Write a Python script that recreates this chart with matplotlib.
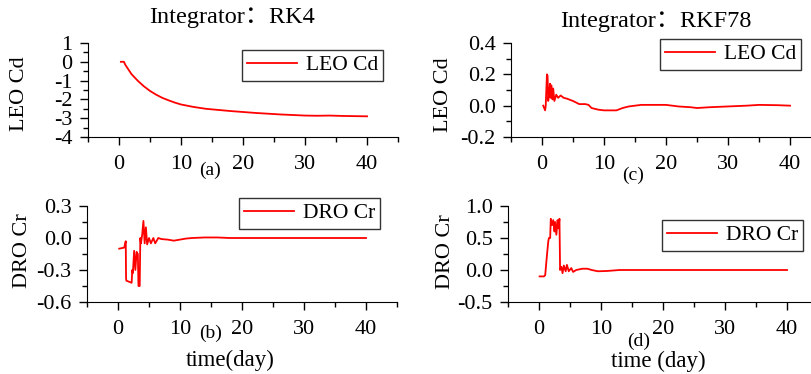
import matplotlib
matplotlib.use("Agg")
import matplotlib.pyplot as plt
from matplotlib.ticker import MultipleLocator

plt.rcParams["font.family"] = ["Liberation Serif", "Noto Sans CJK SC"]
plt.rcParams["axes.unicode_minus"] = False

# (a) RK4, LEO Cd
t_a = [0.3, 0.8, 1.0, 1.5, 2, 3, 4, 5, 6, 7, 8, 9, 10, 12, 14, 16, 18, 20,
       22, 24, 26, 28, 30, 32, 34, 36, 38, 40]
cd_a = [0.0, 0.0, -0.15, -0.4, -0.65, -1.0, -1.3, -1.55, -1.75, -1.92, -2.05,
        -2.17, -2.27, -2.4, -2.5, -2.56, -2.62, -2.67, -2.72, -2.76, -2.8,
        -2.83, -2.86, -2.87, -2.86, -2.88, -2.89, -2.9]

# (c) RKF78, LEO Cd
t_c = [0.2, 0.5, 0.6, 0.8, 0.9, 1.0, 1.1, 1.3, 1.4, 1.5, 1.7, 1.8, 2.0, 2.3,
       2.6, 3.0, 3.5, 4.0, 5.0, 6.0, 7.0, 7.5, 8.0, 9.0, 10, 12, 13, 14, 16,
       18, 20, 22, 24, 25, 27, 30, 33, 35, 38, 40]
cd_c = [0.0, -0.03, 0.0, 0.2, 0.19, 0.03, 0.06, 0.14, 0.05, 0.13, 0.04, 0.11,
        0.03, 0.07, 0.05, 0.065, 0.05, 0.045, 0.03, 0.01, 0.01, 0.005, -0.015,
        -0.025, -0.03, -0.03, -0.015, -0.005, 0.005, 0.005, 0.005, -0.005,
        -0.01, -0.015, -0.01, -0.005, 0.0, 0.005, 0.003, 0.0]

# (b) RK4, DRO Cr
t_b = [0.2, 1.0, 1.25, 1.3, 1.35, 2.2, 2.3, 2.4, 2.6, 2.8, 3.0, 3.2, 3.3,
       3.5, 3.6, 3.7, 3.9, 4.1, 4.3, 4.5, 4.7, 5.0, 5.3, 5.7, 6.0, 6.5, 7,
       8, 9, 10, 11, 12, 14, 16, 18, 20, 25, 30, 35, 40]
cr_b = [-0.1, -0.09, -0.03, -0.38, -0.4, -0.42, -0.3, -0.33, -0.12, -0.3,
        -0.13, -0.15, -0.45, -0.45, 0.0, -0.05, 0.03, 0.16, -0.05, 0.1, -0.06,
        0.0, -0.05, 0.0, -0.05, 0.0, -0.01, -0.015, -0.025, -0.015, -0.005,
        0.0, 0.005, 0.005, 0.0, 0.0, 0.0, 0.0, 0.0, 0.0]

# (d) RKF78, DRO Cr
t_d = [0.1, 0.8, 1.0, 1.3, 1.5, 1.6, 1.8, 1.9, 2.1, 2.3, 2.5, 2.6, 2.8, 3.0,
       3.1, 3.3, 3.4, 3.6, 3.8, 4.0, 4.3, 4.5, 4.8, 5.2, 5.5, 6, 7, 7.8, 8.5,
       9.5, 11, 13, 16, 20, 25, 30, 35, 40]
cr_d = [-0.1, -0.1, -0.08, 0.25, 0.45, 0.5, 0.5, 0.8, 0.7, 0.78, 0.6, 0.75,
        0.55, 0.78, 0.65, 0.8, 0.0, 0.05, -0.05, 0.07, -0.02, 0.08, -0.02,
        0.03, -0.03, 0.0, 0.02, 0.02, 0.0, -0.02, -0.015, 0.0, 0.0, 0.0, 0.0,
        0.0, 0.0, 0.0]

W, H = 812, 374
fig = plt.figure(figsize=(W / 100, H / 100), dpi=100)


def fx(px):
    return px / W


def fy(py):
    return 1 - py / H


def panel(rect, t, v, ylim, ymaj, fmt, label, leg_xy):
    ax = fig.add_axes(rect)
    ax.plot(t, v, color="red", lw=1.3, label=label)
    ax.set_xlim(-5, 45)
    ax.set_ylim(*ylim)
    ax.spines["top"].set_visible(False)
    ax.spines["right"].set_visible(False)
    ax.xaxis.set_major_locator(MultipleLocator(10))
    ax.xaxis.set_minor_locator(MultipleLocator(5))
    ax.yaxis.set_major_locator(MultipleLocator(ymaj))
    ax.yaxis.set_minor_locator(MultipleLocator(ymaj / 2))
    ax.yaxis.set_major_formatter(plt.FuncFormatter(lambda val, p: fmt.format(val)))
    ax.tick_params(which="major", direction="out", length=6, width=1,
                   labelsize=16)
    ax.tick_params(which="minor", direction="out", length=3.5, width=1)
    ax.tick_params(axis="x", which="major", pad=7)
    ax.tick_params(axis="y", which="major", pad=5)
    ax.set_xticks([0, 10, 20, 30, 40])
    leg = ax.legend(loc="upper left", bbox_to_anchor=(fx(leg_xy[0]), fy(leg_xy[1])),
                    bbox_transform=fig.transFigure, fontsize=15.5,
                    fancybox=False, edgecolor="#333333", framealpha=1,
                    borderaxespad=0, borderpad=0.25, handlelength=2.3,
                    handletextpad=0.4)
    leg.get_frame().set_linewidth(1.0)
    return ax


w = 0.3818
panel([fx(88), fy(137), w, fy(43) - fy(137)], t_a, cd_a, (-4, 1), 1, "{:.0f}",
      "LEO Cd", (242, 50))
panel([fx(511), fy(137), w, fy(43) - fy(137)], t_c, cd_c, (-0.2, 0.4), 0.2, "{:.1f}",
      "LEO Cd", (660, 39))
panel([fx(87), fy(302), w, fy(206) - fy(302)], t_b, cr_b, (-0.6, 0.3), 0.3, "{:.1f}",
      "DRO Cr", (239, 198))
panel([fx(508), fy(302), w, fy(206) - fy(302)], t_d, cr_d, (-0.5, 1.0), 0.5, "{:.1f}",
      "DRO Cr", (662, 220))

txt = dict(ha="center", va="center")
fig.text(fx(232), fy(17), "Integrator：RK4", fontsize=17.5, **txt)
fig.text(fx(656), fy(21), "Integrator：RKF78", fontsize=17.5, **txt)
fig.text(fx(20), fy(94), "LEO Cd", fontsize=16, rotation=90, **txt)
fig.text(fx(444), fy(95), "LEO Cd", fontsize=16, rotation=90, **txt)
fig.text(fx(23), fy(251), "DRO Cr", fontsize=16, rotation=90, **txt)
fig.text(fx(446), fy(252), "DRO Cr", fontsize=16, rotation=90, **txt)
fig.text(fx(210), fy(170), "(a)", fontsize=14, **txt)
fig.text(fx(633), fy(175), "(c)", fontsize=14, **txt)
fig.text(fx(211), fy(333), "(b)", fontsize=14, **txt)
fig.text(fx(639), fy(341), "(d)", fontsize=14, **txt)
fig.text(fx(230), fy(360), "time(day)", fontsize=16.5, **txt)
fig.text(fx(658), fy(361), "time (day)", fontsize=16.5, **txt)

fig.savefig("out.png", dpi=100)
